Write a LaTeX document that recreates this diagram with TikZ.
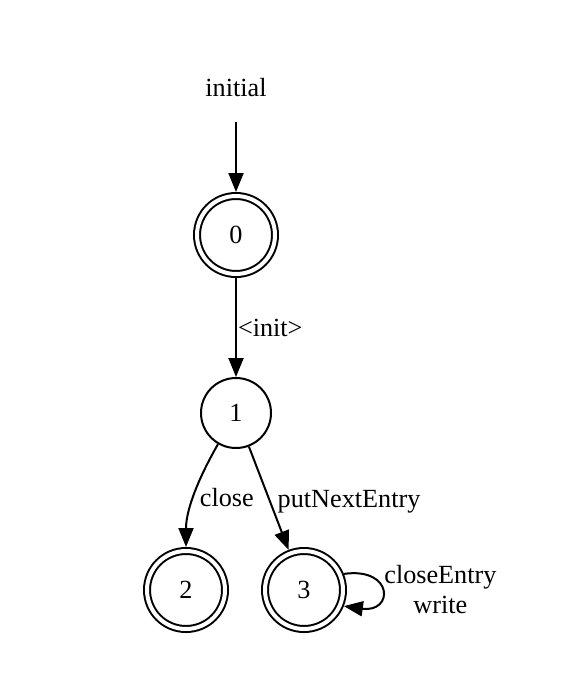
\documentclass[tikz,border=0pt]{standalone}
\usepackage{fontspec}
\setmainfont{Liberation Serif}
\usetikzlibrary{arrows.meta}

\begin{document}
\begin{tikzpicture}[x=0.5pt,y=-0.5pt,
    font=\fontsize{13.1}{15}\selectfont,
    >={Triangle[length=9.5pt,width=7.5pt]}]
\useasboundingbox (0,0) rectangle (586,674);
\node[inner sep=0,minimum height=34pt] (init) at (236,88) {initial};
\begin{scope}[every node/.style={circle,draw,line width=1pt,inner sep=0}]
    \node[double,double distance=2pt,minimum size=39pt,outer sep=2pt] (s0) at (236,235) {0};
    \node[minimum size=35pt] (s1) at (236,413) {1};
    \node[double,double distance=2pt,minimum size=39pt,outer sep=2pt] (s2) at (186,590) {2};
    \node[double,double distance=2pt,minimum size=39pt,outer sep=2pt] (s3) at (304,590) {3};
\end{scope}
\begin{scope}[
    every node/.style={inner sep=2pt},
    every edge/.style={draw=black,line width=1pt}]
    \path [->] (init) edge (s0);
    \path [->] (s0) edge node[right,inner sep=0.5pt] {<init>} (s1);
    \path [->] (s1) edge[out=-120,in=90,looseness=0.9] node[right,yshift=-2pt] {close} (s2);
    \path [->] (s1) edge node[right,xshift=2pt,yshift=-2pt] {putNextEntry} (s3);
    \draw [->,line width=1pt] (s3.22) .. controls +(50,-7) and +(50,7) .. node[right,inner sep=0,align=center,xshift=1pt] {closeEntry\\write} (s3.-22);
\end{scope}
\end{tikzpicture}
\end{document}
